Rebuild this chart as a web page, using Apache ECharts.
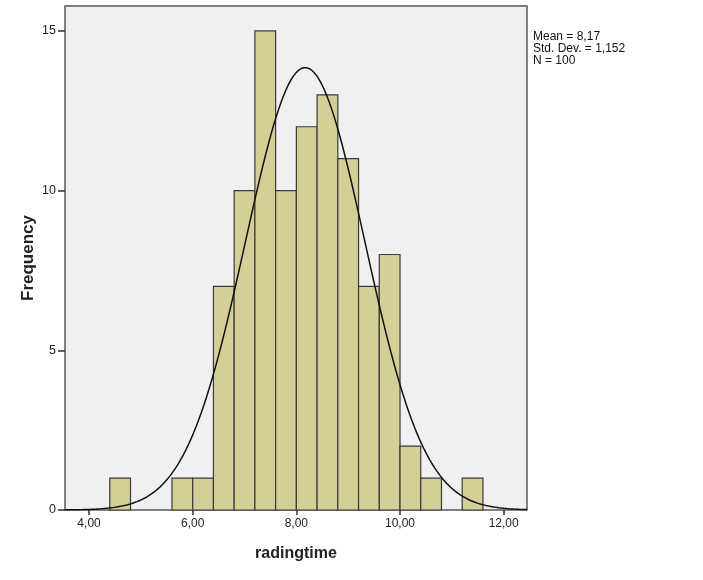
<!DOCTYPE html>
<html>
<head>
<meta charset="utf-8">
<script src="https://cdn.jsdelivr.net/npm/echarts@6/dist/echarts.min.js"></script>
<style>html,body{margin:0;padding:0;background:#fff;}#c{width:703px;height:580px;}</style>
</head>
<body>
<div id="c"></div>
<script>
// Histogram bins (start of each 0.4-wide bin) and frequencies
const binStarts = [4.4, 5.6, 6.0, 6.4, 6.8, 7.2, 7.6, 8.0, 8.4, 8.8, 9.2, 9.6, 10.0, 10.4, 11.2];
const counts    = [1,   1,   1,   7,   10,  15,  10,  12,  13,  11,  7,   8,   2,    1,    1];
const binWidth = 0.4;
// Summary statistics shown in the chart
const meanVal = 8.17;
const sdVal = 1.152;
const nVal = 100;
const xTicks = [4, 6, 8, 10, 12];
const yTicks = [0, 5, 10, 15];

// Fitted normal curve from the displayed statistics
const curve = [];
for (let i = 0; i <= 180; i++) {
  const x = 3.54 + i * (12.45 - 3.54) / 180;
  const z = (x - meanVal) / sdVal;
  curve.push([x, nVal * binWidth / (sdVal * Math.sqrt(2 * Math.PI)) * Math.exp(-0.5 * z * z)]);
}

const barData = binStarts.map((s, i) => [s, s + binWidth, counts[i]]);
const fmt = v => v.toFixed(2).replace('.', ',');
const font = 'Liberation Sans, Arial, sans-serif';

const chart = echarts.init(document.getElementById('c'), null, {renderer: 'canvas'});
chart.setOption({
  animation: false,
  backgroundColor: '#ffffff',
  grid: {left: 65, top: 6, right: 176, bottom: 70, show: true, backgroundColor: '#f0f0f0', borderColor: '#5a5a5a', borderWidth: 1.5},
  xAxis: {
    type: 'value', min: 3.536, max: 12.45,
    name: 'radingtime', nameLocation: 'middle', nameGap: 36,
    nameTextStyle: {fontFamily: font, fontWeight: 'bold', fontSize: 16, color: '#222'},
    axisLine: {show: false},
    splitLine: {show: false},
    axisTick: {show: true, length: 5, customValues: xTicks, lineStyle: {color: '#333', width: 1.5}},
    axisLabel: {customValues: xTicks, formatter: fmt, fontFamily: font, fontSize: 12, color: '#222', margin: 8}
  },
  yAxis: {
    type: 'value', min: 0, max: 15.78,
    name: 'Frequency', nameLocation: 'middle', nameGap: 28, nameMoveOverlap: false,
    nameTextStyle: {fontFamily: font, fontWeight: 'bold', fontSize: 17, color: '#222'},
    axisLine: {show: false},
    splitLine: {show: false},
    axisTick: {show: true, length: 7, customValues: yTicks, lineStyle: {color: '#333', width: 1.5}},
    axisLabel: {customValues: yTicks, fontFamily: font, fontSize: 12.5, color: '#222', margin: 9}
  },
  series: [
    {
      type: 'custom',
      data: barData,
      renderItem: function (params, api) {
        const p0 = api.coord([api.value(0), 0]);
        const p1 = api.coord([api.value(1), api.value(2)]);
        return {
          type: 'rect',
          shape: {x: p0[0], y: p1[1], width: p1[0] - p0[0], height: p0[1] - p1[1]},
          style: {fill: '#d3cf96', stroke: '#3a3a3a', lineWidth: 1.2}
        };
      },
      encode: {x: [0, 1], y: 2},
      z: 2
    },
    {
      type: 'line', data: curve, showSymbol: false, smooth: false,
      lineStyle: {color: '#111', width: 1.5}, z: 3
    }
  ],
  graphic: [
    {type: 'text', left: 533, top: 31, style: {text: 'Mean = 8,17\nStd. Dev. = 1,152\nN = 100', font: '12px ' + font, fill: '#111', lineHeight: 12}}
  ]
});
</script>
</body>
</html>
